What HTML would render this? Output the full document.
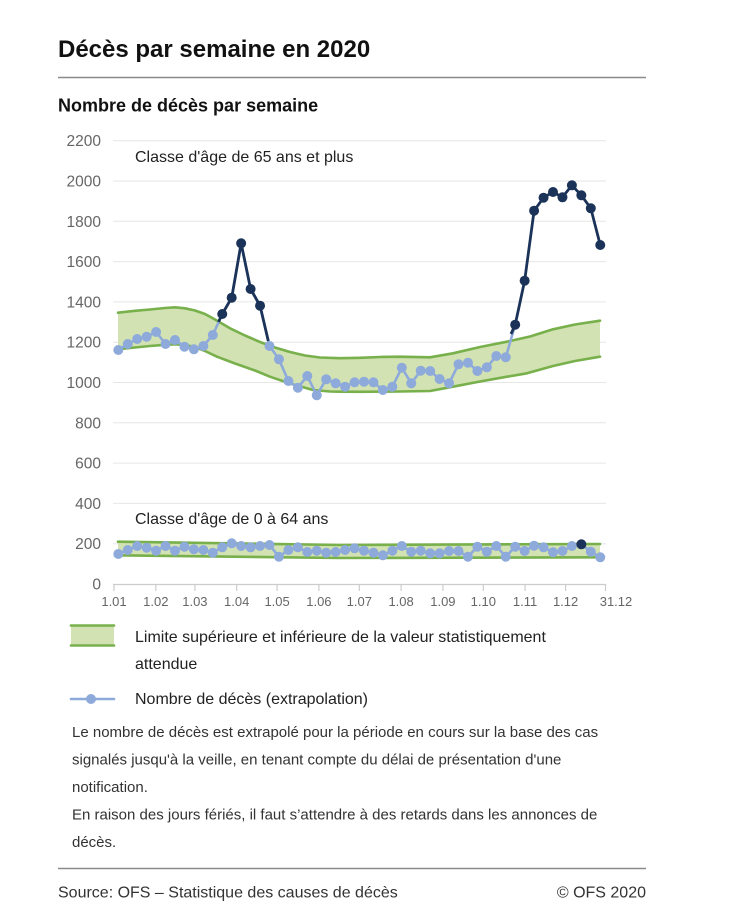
<!DOCTYPE html>
<html><head><meta charset="utf-8"><style>
html,body{margin:0;padding:0;background:#fff;}
svg{display:block;font-family:"Liberation Sans",Arial,sans-serif;}
</style></head><body>
<svg width="755" height="915" viewBox="0 0 755 915" xmlns="http://www.w3.org/2000/svg">
<text x="58" y="57" font-size="24" font-weight="bold" fill="#111">Décès par semaine en 2020</text>
<line x1="58" y1="77.5" x2="646" y2="77.5" stroke="#8a8a8a" stroke-width="1.5"/>
<text x="58" y="111.5" font-size="18" font-weight="bold" fill="#111">Nombre de décès par semaine</text>

<g stroke="#e6e6e6" stroke-width="1">
<line x1="113" y1="140.7" x2="606" y2="140.7"/>
<line x1="113" y1="181" x2="606" y2="181"/>
<line x1="113" y1="221.3" x2="606" y2="221.3"/>
<line x1="113" y1="261.6" x2="606" y2="261.6"/>
<line x1="113" y1="301.9" x2="606" y2="301.9"/>
<line x1="113" y1="342.2" x2="606" y2="342.2"/>
<line x1="113" y1="382.5" x2="606" y2="382.5"/>
<line x1="113" y1="422.8" x2="606" y2="422.8"/>
<line x1="113" y1="463.1" x2="606" y2="463.1"/>
<line x1="113" y1="503.4" x2="606" y2="503.4"/>
<line x1="113" y1="543.7" x2="606" y2="543.7"/>
</g>
<line x1="113" y1="584.5" x2="606" y2="584.5" stroke="#ccc" stroke-width="1.2"/>
<g stroke="#ccc" stroke-width="1.2">
<line x1="114" y1="584" x2="114" y2="591"/>
<line x1="155.8" y1="584" x2="155.8" y2="591"/>
<line x1="194.9" y1="584" x2="194.9" y2="591"/>
<line x1="236.7" y1="584" x2="236.7" y2="591"/>
<line x1="277.1" y1="584" x2="277.1" y2="591"/>
<line x1="318.9" y1="584" x2="318.9" y2="591"/>
<line x1="359.3" y1="584" x2="359.3" y2="591"/>
<line x1="401.1" y1="584" x2="401.1" y2="591"/>
<line x1="442.9" y1="584" x2="442.9" y2="591"/>
<line x1="483.3" y1="584" x2="483.3" y2="591"/>
<line x1="525.1" y1="584" x2="525.1" y2="591"/>
<line x1="565.6" y1="584" x2="565.6" y2="591"/>
<line x1="605.5" y1="584" x2="605.5" y2="591"/>
</g>
<g font-size="15.5" fill="#666" text-anchor="end">
<text x="101" y="146">2200</text>
<text x="101" y="186.5">2000</text>
<text x="101" y="226.8">1800</text>
<text x="101" y="267.1">1600</text>
<text x="101" y="307.4">1400</text>
<text x="101" y="347.7">1200</text>
<text x="101" y="388">1000</text>
<text x="101" y="428.3">800</text>
<text x="101" y="468.6">600</text>
<text x="101" y="508.9">400</text>
<text x="101" y="549.2">200</text>
<text x="101" y="589.5">0</text>
</g>
<g font-size="13" fill="#666" text-anchor="middle">
<text x="114" y="606">1.01</text>
<text x="155.8" y="606">1.02</text>
<text x="194.9" y="606">1.03</text>
<text x="236.7" y="606">1.04</text>
<text x="277.1" y="606">1.05</text>
<text x="318.9" y="606">1.06</text>
<text x="359.3" y="606">1.07</text>
<text x="401.1" y="606">1.08</text>
<text x="442.9" y="606">1.09</text>
<text x="483.3" y="606">1.10</text>
<text x="525.1" y="606">1.11</text>
<text x="565.6" y="606">1.12</text>
<text x="616" y="606">31.12</text>
</g>

<text x="135" y="162" font-size="16" fill="#222">Classe d'âge de 65 ans et plus</text>
<text x="135" y="524" font-size="16" fill="#222">Classe d'âge de 0 à 64 ans</text>

<!-- upper band -->
<polygon fill="#d2e2b3" points="118,312.7 135,310.8 150,309.5 165,308 175,307.3 185,308.3 195,310.5 205,314 215,319.5 230,328.3 245,335.5 260,342 275,347.5 290,352 305,355.5 320,357.5 340,358.2 360,357.8 380,357 400,356.7 430,357.3 453,353.3 480,347 507,341.7 530,336.5 553,329.3 575,324.5 600,320.7 600,356.7 575,361 553,366 527,373.3 507,376.7 480,381.5 453,386.7 430,391 400,391.5 360,391.8 340,391.7 330,391.5 313,390 290,383.5 270,376.7 255,370.5 235,363.5 217,356.7 205,351 195,347 185,345 175,344.3 165,344.8 150,346 135,347.5 118,349.3"/>
<g fill="none" stroke="#78b04c" stroke-width="2.6" stroke-linejoin="round" stroke-linecap="round">
<polyline points="118,312.7 135,310.8 150,309.5 165,308 175,307.3 185,308.3 195,310.5 205,314 215,319.5 230,328.3 245,335.5 260,342 275,347.5 290,352 305,355.5 320,357.5 340,358.2 360,357.8 380,357 400,356.7 430,357.3 453,353.3 480,347 507,341.7 530,336.5 553,329.3 575,324.5 600,320.7"/>
<polyline points="118,349.3 135,347.5 150,346 165,344.8 175,344.3 185,345 195,347 205,351 217,356.7 235,363.5 255,370.5 270,376.7 290,383.5 313,390 330,391.5 340,391.7 360,391.8 400,391.5 430,391 453,386.7 480,381.5 507,376.7 527,373.3 553,366 575,361 600,356.7"/>
</g>

<!-- lower band -->
<polygon fill="#d2e2b3" points="118,541.7 340,545 600,544 600,557.3 340,558 118,555.3"/>
<g fill="none" stroke="#78b04c" stroke-width="2.6" stroke-linecap="round">
<polyline points="118,541.7 340,545 600,544"/>
<polyline points="118,555.3 340,558 600,557.3"/>
</g>

<!-- upper series -->
<polyline fill="none" stroke="#8eaadb" stroke-width="2.6" stroke-linejoin="round" points="118.3,350 127.75,344 137.2,339 146.65,336.7 156.1,332 165.55,344 175,340 184.45,346.7 193.9,349.3 203.35,346 212.8,335 222.25,314 231.7,297.7 241.15,243.3 250.6,289 260.05,305.7 269.5,346 278.95,359.3 288.4,381 297.85,387.7 307.3,376 316.75,395.3 326.2,379.3 335.65,383.3 345.1,386.7 354.55,382.3 364,381.7 373.45,382.3 382.9,390 392.35,386.7 401.8,367.7 411.25,383.3 420.7,370.7 430.15,371 439.6,379 449.05,383.3 458.5,364.3 467.95,362.7 477.4,371 486.85,367.3 496.3,356 505.75,357.3 515.2,324.7"/>
<polyline fill="none" stroke="#1b3358" stroke-width="2.8" stroke-linejoin="round" points="218.5,322 222.25,314 231.7,297.7 241.15,243.3 250.6,289 260.05,305.7 268.3,341"/>
<polyline fill="none" stroke="#1b3358" stroke-width="2.8" stroke-linejoin="round" points="511,334 515.2,324.7 524.65,280.7 534.1,210.7 543.55,197.7 553,192 562.45,197.3 571.9,185.3 581.35,195.3 590.8,208.3 600.25,245"/>
<g fill="#8eaadb">
<circle cx="118.3" cy="350" r="5"/><circle cx="127.75" cy="344" r="5"/><circle cx="137.2" cy="339" r="5"/><circle cx="146.65" cy="336.7" r="5"/><circle cx="156.1" cy="332" r="5"/><circle cx="165.55" cy="344" r="5"/><circle cx="175" cy="340" r="5"/><circle cx="184.45" cy="346.7" r="5"/><circle cx="193.9" cy="349.3" r="5"/><circle cx="203.35" cy="346" r="5"/><circle cx="212.8" cy="335" r="5"/>
<circle cx="269.5" cy="346" r="5"/><circle cx="278.95" cy="359.3" r="5"/><circle cx="288.4" cy="381" r="5"/><circle cx="297.85" cy="387.7" r="5"/><circle cx="307.3" cy="376" r="5"/><circle cx="316.75" cy="395.3" r="5"/><circle cx="326.2" cy="379.3" r="5"/><circle cx="335.65" cy="383.3" r="5"/><circle cx="345.1" cy="386.7" r="5"/><circle cx="354.55" cy="382.3" r="5"/><circle cx="364" cy="381.7" r="5"/><circle cx="373.45" cy="382.3" r="5"/><circle cx="382.9" cy="390" r="5"/><circle cx="392.35" cy="386.7" r="5"/><circle cx="401.8" cy="367.7" r="5"/><circle cx="411.25" cy="383.3" r="5"/><circle cx="420.7" cy="370.7" r="5"/><circle cx="430.15" cy="371" r="5"/><circle cx="439.6" cy="379" r="5"/><circle cx="449.05" cy="383.3" r="5"/><circle cx="458.5" cy="364.3" r="5"/><circle cx="467.95" cy="362.7" r="5"/><circle cx="477.4" cy="371" r="5"/><circle cx="486.85" cy="367.3" r="5"/><circle cx="496.3" cy="356" r="5"/><circle cx="505.75" cy="357.3" r="5"/>
</g>
<g fill="#1b3358">
<circle cx="222.25" cy="314" r="5"/><circle cx="231.7" cy="297.7" r="5"/><circle cx="241.15" cy="243.3" r="5"/><circle cx="250.6" cy="289" r="5"/><circle cx="260.05" cy="305.7" r="5"/>
<circle cx="515.2" cy="324.7" r="5"/><circle cx="524.65" cy="280.7" r="5"/><circle cx="534.1" cy="210.7" r="5"/><circle cx="543.55" cy="197.7" r="5"/><circle cx="553" cy="192" r="5"/><circle cx="562.45" cy="197.3" r="5"/><circle cx="571.9" cy="185.3" r="5"/><circle cx="581.35" cy="195.3" r="5"/><circle cx="590.8" cy="208.3" r="5"/><circle cx="600.25" cy="245" r="5"/>
</g>

<!-- lower series -->
<polyline fill="none" stroke="#8eaadb" stroke-width="2.6" stroke-linejoin="round" points="118.3,554 127.75,550 137.2,546 146.65,547.7 156.1,550.7 165.55,546 175,550.7 184.45,546.7 193.9,549.3 203.35,550 212.8,552.7 222.25,547.3 231.7,543.3 241.15,546 250.6,547.3 260.05,546 269.5,545 278.95,556.7 288.4,550 297.85,547.3 307.3,552 316.75,550.7 326.2,552.7 335.65,552 345.1,550 354.55,548.3 364,550.7 373.45,552.7 382.9,555.3 392.35,550.7 401.8,546 411.25,551.7 420.7,550.7 430.15,553.3 439.6,553.3 449.05,551 458.5,551 467.95,556.7 477.4,546.7 486.85,551.7 496.3,546 505.75,556.7 515.2,546.7 524.65,551 534.1,545.7 543.55,547.3 553,552.3 562.45,551 571.9,546 581.35,544.3 590.8,551.7 600.25,557.3"/>
<g fill="#8eaadb">
<circle cx="118.3" cy="554" r="5"/><circle cx="127.75" cy="550" r="5"/><circle cx="137.2" cy="546" r="5"/><circle cx="146.65" cy="547.7" r="5"/><circle cx="156.1" cy="550.7" r="5"/><circle cx="165.55" cy="546" r="5"/><circle cx="175" cy="550.7" r="5"/><circle cx="184.45" cy="546.7" r="5"/><circle cx="193.9" cy="549.3" r="5"/><circle cx="203.35" cy="550" r="5"/><circle cx="212.8" cy="552.7" r="5"/><circle cx="222.25" cy="547.3" r="5"/><circle cx="231.7" cy="543.3" r="5"/><circle cx="241.15" cy="546" r="5"/><circle cx="250.6" cy="547.3" r="5"/><circle cx="260.05" cy="546" r="5"/><circle cx="269.5" cy="545" r="5"/><circle cx="278.95" cy="556.7" r="5"/><circle cx="288.4" cy="550" r="5"/><circle cx="297.85" cy="547.3" r="5"/><circle cx="307.3" cy="552" r="5"/><circle cx="316.75" cy="550.7" r="5"/><circle cx="326.2" cy="552.7" r="5"/><circle cx="335.65" cy="552" r="5"/><circle cx="345.1" cy="550" r="5"/><circle cx="354.55" cy="548.3" r="5"/><circle cx="364" cy="550.7" r="5"/><circle cx="373.45" cy="552.7" r="5"/><circle cx="382.9" cy="555.3" r="5"/><circle cx="392.35" cy="550.7" r="5"/><circle cx="401.8" cy="546" r="5"/><circle cx="411.25" cy="551.7" r="5"/><circle cx="420.7" cy="550.7" r="5"/><circle cx="430.15" cy="553.3" r="5"/><circle cx="439.6" cy="553.3" r="5"/><circle cx="449.05" cy="551" r="5"/><circle cx="458.5" cy="551" r="5"/><circle cx="467.95" cy="556.7" r="5"/><circle cx="477.4" cy="546.7" r="5"/><circle cx="486.85" cy="551.7" r="5"/><circle cx="496.3" cy="546" r="5"/><circle cx="505.75" cy="556.7" r="5"/><circle cx="515.2" cy="546.7" r="5"/><circle cx="524.65" cy="551" r="5"/><circle cx="534.1" cy="545.7" r="5"/><circle cx="543.55" cy="547.3" r="5"/><circle cx="553" cy="552.3" r="5"/><circle cx="562.45" cy="551" r="5"/><circle cx="571.9" cy="546" r="5"/><circle cx="590.8" cy="551.7" r="5"/><circle cx="600.25" cy="557.3" r="5"/>
</g>
<circle cx="581.35" cy="544.3" r="5" fill="#1b3358"/>

<!-- legend -->
<rect x="71" y="625" width="43" height="21" fill="#d2e2b3"/>
<line x1="71" y1="625.5" x2="114" y2="625.5" stroke="#78b04c" stroke-width="2.6" stroke-linecap="round"/>
<line x1="71" y1="645.5" x2="114" y2="645.5" stroke="#78b04c" stroke-width="2.6" stroke-linecap="round"/>
<text x="135" y="642" font-size="16" fill="#222">Limite supérieure et inférieure de la valeur statistiquement</text>
<text x="135" y="669" font-size="16" fill="#222">attendue</text>
<line x1="71" y1="699" x2="114" y2="699" stroke="#8eaadb" stroke-width="2.6" stroke-linecap="round"/>
<circle cx="91" cy="699" r="5" fill="#8eaadb"/>
<text x="135" y="704" font-size="16" fill="#222">Nombre de décès (extrapolation)</text>

<g font-size="15" fill="#333">
<text x="72" y="737">Le nombre de décès est extrapolé pour la période en cours sur la base des cas</text>
<text x="72" y="764.5">signalés jusqu'à la veille, en tenant compte du délai de présentation d'une</text>
<text x="72" y="792">notification.</text>
<text x="72" y="819.5">En raison des jours fériés, il faut s’attendre à des retards dans les annonces de</text>
<text x="72" y="847">décès.</text>
</g>
<line x1="58" y1="868.5" x2="646" y2="868.5" stroke="#8a8a8a" stroke-width="1.5"/>
<text x="58" y="897.5" font-size="16" fill="#333">Source: OFS – Statistique des causes de décès</text>
<text x="646" y="897.5" font-size="16" fill="#333" text-anchor="end">© OFS 2020</text>
</svg>
</body></html>
